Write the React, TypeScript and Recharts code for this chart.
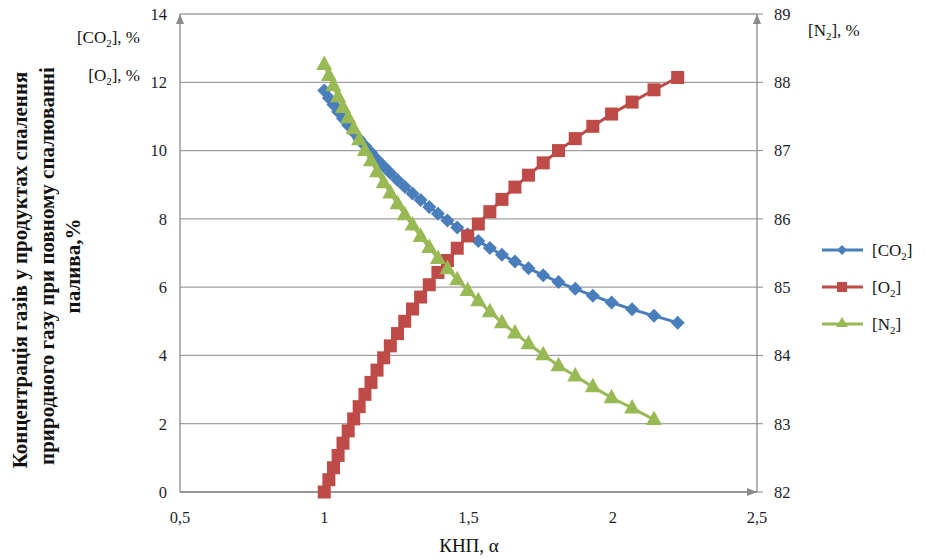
import React from 'react';
import { LineChart, Line, XAxis, YAxis, CartesianGrid, Customized } from 'recharts';

// коефіцієнт надлишку повітря
const alpha = [1.0, 1.016, 1.032, 1.048, 1.065, 1.083, 1.102, 1.121, 1.141, 1.162, 1.183, 1.206, 1.229, 1.254, 1.279, 1.306, 1.334, 1.364, 1.394, 1.427, 1.461, 1.497, 1.534, 1.574, 1.616, 1.661, 1.708, 1.759, 1.812, 1.87, 1.931, 1.996, 2.067, 2.143, 2.225];
const co2 = [11.76, 11.54, 11.34, 11.14, 10.94, 10.74, 10.54, 10.34, 10.14, 9.94, 9.74, 9.54, 9.34, 9.14, 8.94, 8.74, 8.55, 8.35, 8.15, 7.95, 7.75, 7.55, 7.35, 7.15, 6.95, 6.75, 6.55, 6.35, 6.15, 5.95, 5.75, 5.55, 5.35, 5.16, 4.96];
const o2 = [0, 0.36, 0.71, 1.07, 1.43, 1.79, 2.14, 2.5, 2.86, 3.21, 3.57, 3.93, 4.28, 4.64, 5.0, 5.36, 5.71, 6.07, 6.43, 6.78, 7.14, 7.5, 7.85, 8.21, 8.57, 8.93, 9.28, 9.64, 10.0, 10.35, 10.71, 11.07, 11.42, 11.78, 12.14];
const n2 = [88.26, 88.1, 87.95, 87.79, 87.63, 87.48, 87.32, 87.16, 87.0, 86.85, 86.69, 86.53, 86.38, 86.22, 86.06, 85.91, 85.74, 85.58, 85.42, 85.27, 85.11, 84.95, 84.8, 84.64, 84.48, 84.33, 84.17, 84.01, 83.85, 83.7, 83.54, 83.38, 83.23, 83.06, null];

const xTicks = [0.5, 1, 1.5, 2, 2.5];
const leftTicks = [0, 2, 4, 6, 8, 10, 12, 14];
const rightTicks = [82, 83, 84, 85, 86, 87, 88, 89];

const rows = alpha.map((a, i) => ({ alpha: a, co2: co2[i], o2: o2[i], n2: n2[i] }));

const BLUE = '#4a7ebb';
const RED = '#be4b48';
const GREEN = '#98b954';
const AXIS = '#8a8a8a';
const FONT = '"Liberation Serif", "Times New Roman", serif';

const tickStyle = { fontFamily: FONT, fontSize: 16.5, fill: '#1e1e2a' };

const Diamond = (p: any) => {
  if (p.cy == null || p.value == null) return <g key={p.index} />;
  const { cx, cy } = p;
  return <path key={p.index} d={`M${cx},${cy - 7}L${cx + 7},${cy}L${cx},${cy + 7}L${cx - 7},${cy}Z`} fill={BLUE} />;
};
const Square = (p: any) => {
  if (p.cy == null || p.value == null) return <g key={p.index} />;
  return <rect key={p.index} x={p.cx - 6.5} y={p.cy - 6.5} width={13} height={13} fill={RED} />;
};
const Triangle = (p: any) => {
  if (p.cy == null || p.value == null) return <g key={p.index} />;
  const { cx, cy } = p;
  return <path key={p.index} d={`M${cx},${cy - 9}L${cx + 8},${cy + 5.5}L${cx - 8},${cy + 5.5}Z`} fill={GREEN} />;
};

const Labels = () => (
  <g fontFamily={FONT} fill="#111">
    <text x={140} y={43} fontSize={17} textAnchor="end">
      [CO<tspan fontSize={11} dy={4}>2</tspan><tspan dy={-4}>], %</tspan>
    </text>
    <text x={140} y={81} fontSize={17} textAnchor="end">
      [O<tspan fontSize={11} dy={4}>2</tspan><tspan dy={-4}>], %</tspan>
    </text>
    <text x={808} y={36} fontSize={17}>
      [N<tspan fontSize={11} dy={4}>2</tspan><tspan dy={-4}>], %</tspan>
    </text>
    <g fontSize={21} fontWeight="bold" textAnchor="middle">
      <text transform="translate(27,270) rotate(-90)">Концентрація газів у продуктах спалення</text>
      <text transform="translate(54,266) rotate(-90)">природного газу при повному спалюванні</text>
      <text transform="translate(80,266) rotate(-90)">палива,%</text>
    </g>
    <text x={469} y={552} fontSize={19} textAnchor="middle">КНП, α</text>
    {/* легенда */}
    <g>
      <line x1={822} x2={863} y1={250} y2={250} stroke={BLUE} strokeWidth={3} />
      <path d="M842,245L847,250L842,255L837,250Z" fill={BLUE} />
      <text x={872} y={256} fontSize={17}>[CO<tspan fontSize={11} dy={4}>2</tspan><tspan dy={-4}>]</tspan></text>
      <line x1={822} x2={863} y1={287} y2={287} stroke={RED} strokeWidth={3} />
      <rect x={837} y={282} width={10} height={10} fill={RED} />
      <text x={872} y={293} fontSize={17}>[O<tspan fontSize={11} dy={4}>2</tspan><tspan dy={-4}>]</tspan></text>
      <line x1={822} x2={863} y1={324} y2={324} stroke={GREEN} strokeWidth={3} />
      <path d="M842,317L848,327L836,327Z" fill={GREEN} />
      <text x={872} y={330} fontSize={17}>[N<tspan fontSize={11} dy={4}>2</tspan><tspan dy={-4}>]</tspan></text>
    </g>
  </g>
);

export default function App() {
  return (
    <div style={{ position: 'absolute', left: 0, top: 0, width: 926, height: 559, background: '#fff' }}>
      <svg width={0} height={0} style={{ position: 'absolute' }}>
        <defs>
          <marker id="arr" viewBox="0 0 10 8" refX={10} refY={4} markerWidth={10} markerHeight={8}
            markerUnits="userSpaceOnUse" orient="auto-start-reverse">
            <path d="M0,0L10,4L0,8Z" fill={AXIS} />
          </marker>
        </defs>
      </svg>
      <LineChart width={926} height={559} data={rows} margin={{ top: 14, right: 109, bottom: 37, left: 120 }}>
        <CartesianGrid yAxisId="left" vertical={false} stroke="#a0a0a0" strokeWidth={1.3} />
        <XAxis
          dataKey="alpha"
          type="number"
          domain={[0.5, 2.5]}
          ticks={xTicks}
          tickFormatter={(v: number) => String(v).replace('.', ',')}
          height={30}
          tickLine={false}
          tickSize={0}
          tickMargin={19}
          axisLine={{ stroke: AXIS, strokeWidth: 1.3, markerEnd: 'url(#arr)' }}
          tick={tickStyle}
          allowDataOverflow
        />
        <YAxis
          yAxisId="left"
          width={60}
          domain={[0, 14]}
          ticks={leftTicks}
          tickLine={false}
          tickSize={0}
          tickMargin={13}
          axisLine={{ stroke: AXIS, strokeWidth: 1.3, markerStart: 'url(#arr)' }}
          tick={tickStyle}
        />
        <YAxis
          yAxisId="right"
          orientation="right"
          width={60}
          domain={[82, 89]}
          ticks={rightTicks}
          tickLine={{ stroke: AXIS }}
          tickSize={6}
          tickMargin={11}
          axisLine={{ stroke: AXIS, strokeWidth: 1.3, markerStart: 'url(#arr)' }}
          tick={tickStyle}
        />
        <Line yAxisId="left" type="linear" dataKey="co2" stroke={BLUE} strokeWidth={3} dot={Diamond} isAnimationActive={false} />
        <Line yAxisId="left" type="linear" dataKey="o2" stroke={RED} strokeWidth={3} dot={Square} isAnimationActive={false} />
        <Line yAxisId="right" type="linear" dataKey="n2" stroke={GREEN} strokeWidth={3} dot={Triangle} isAnimationActive={false} />
        <Customized component={Labels} />
      </LineChart>
    </div>
  );
}
